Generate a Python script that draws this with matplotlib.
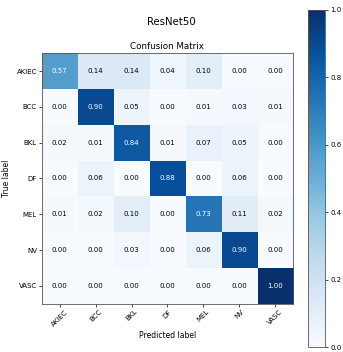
import numpy as np
import matplotlib
matplotlib.use('Agg')
import matplotlib.pyplot as plt

classes = ['AKIEC', 'BCC', 'BKL', 'DF', 'MEL', 'NV', 'VASC']
cm = np.array([
    [0.57, 0.14, 0.14, 0.04, 0.10, 0.00, 0.00],
    [0.00, 0.90, 0.05, 0.00, 0.01, 0.03, 0.01],
    [0.02, 0.01, 0.84, 0.01, 0.07, 0.05, 0.00],
    [0.00, 0.06, 0.00, 0.88, 0.00, 0.06, 0.00],
    [0.01, 0.02, 0.10, 0.00, 0.73, 0.11, 0.02],
    [0.00, 0.00, 0.03, 0.00, 0.06, 0.90, 0.00],
    [0.00, 0.00, 0.00, 0.00, 0.00, 0.00, 1.00],
])

fig = plt.figure(figsize=(3.43, 3.52), dpi=100)
ax = fig.add_axes([0.122, 0.137, 0.732, 0.712])
cax = fig.add_axes([0.898, 0.014, 0.05, 0.958])

im = ax.imshow(cm, interpolation='nearest', cmap=plt.cm.Blues, vmin=0, vmax=1, aspect='auto')
cb = fig.colorbar(im, cax=cax)
cb.ax.tick_params(labelsize=5, length=2, pad=1.5, width=0.5)
cb.outline.set_linewidth(0.6)
cb.outline.set_edgecolor('#555555')

fig.suptitle('ResNet50', fontsize=7.3, y=0.952)
ax.set_title('Confusion Matrix', fontsize=6.3, pad=3)

ticks = np.arange(len(classes))
ax.set_xticks(ticks)
ax.set_xticklabels(classes, rotation=45, fontsize=5)
ax.set_yticks(ticks)
ax.set_yticklabels(classes, fontsize=5)
ax.set_xlabel('Predicted label', fontsize=5.5, labelpad=3)
ax.set_ylabel('True label', fontsize=5.5, labelpad=4)
ax.tick_params(length=2, pad=1.5, width=0.5)
for s in ax.spines.values():
    s.set_linewidth(0.6)
    s.set_edgecolor('#555555')

thresh = cm.max() / 2.
for i in range(cm.shape[0]):
    for j in range(cm.shape[1]):
        ax.text(j, i, f'{cm[i, j]:.2f}', ha='center', va='center', fontsize=5,
                color='white' if cm[i, j] > thresh else 'black')

fig.savefig('out.png', dpi=100)
